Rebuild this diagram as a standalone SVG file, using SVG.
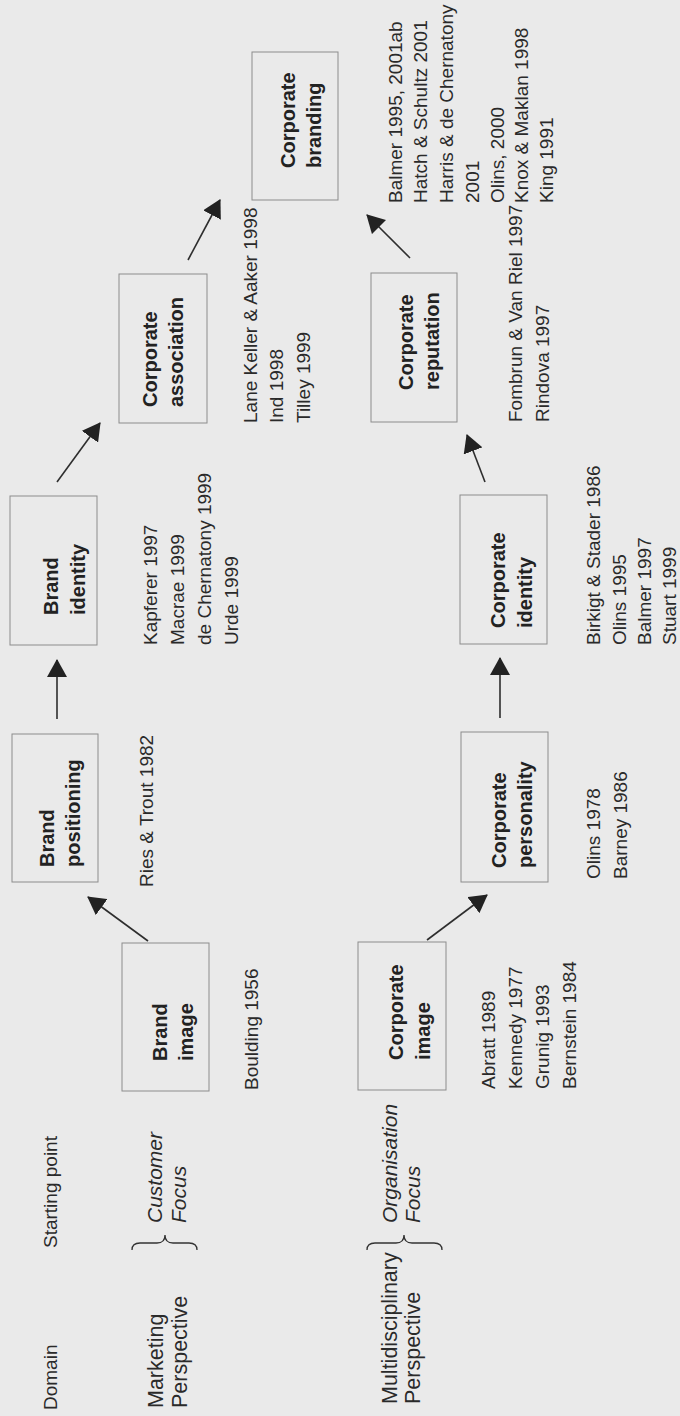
<svg xmlns="http://www.w3.org/2000/svg" width="680" height="1416" viewBox="0 0 680 1416">
  <style>
    .bg { fill: #eaeaea; }
    .box { fill: none; stroke: #8c8c8c; stroke-width: 1; }
    .lbl { font-family: "Liberation Sans", Arial, sans-serif; font-size: 20px; font-weight: bold; fill: #222222; }
    .ref { font-family: "Liberation Sans", Arial, sans-serif; font-size: 19px; fill: #2a2a2a; }
    .hd { font-family: "Liberation Sans", Arial, sans-serif; font-size: 19px; fill: #2a2a2a; }
    .dom { font-family: "Liberation Sans", Arial, sans-serif; font-size: 21.5px; fill: #2a2a2a; }
    .foc { font-family: "Liberation Sans", Arial, sans-serif; font-size: 21px; font-style: italic; fill: #2a2a2a; }
    .brace { fill: none; stroke: #333333; stroke-width: 1.3; }
    .arrow { fill: none; stroke: #2e2e2e; stroke-width: 1.6; marker-end: url(#head); }
  </style>
  <defs>
    <marker id="head" viewBox="0 0 18 20" refX="17" refY="10" markerWidth="18" markerHeight="20" markerUnits="userSpaceOnUse" orient="auto">
      <path d="M0,0 L18,10 L0,20 Z" fill="#222222"/>
    </marker>
  </defs>

  <rect class="bg" x="0" y="0" width="680" height="1416"/>

  <!-- landscape layout, turned a quarter-turn counter-clockwise onto the page -->
  <g transform="translate(0,1416) rotate(-90)">

    <g id="headers">
      <text class="hd" x="6" y="57">Domain</text>
      <text class="hd" x="168" y="57">Starting point</text>
    </g>

    <g id="marketing-domain">
      <text class="dom" x="8" y="163">Marketing</text>
      <text class="dom" x="8" y="187">Perspective</text>
      <path class="brace" d="M166,132 Q173,132 173,140 L173,157 Q173,165 181,165 Q173,165 173,173 L173,189 Q173,197 166,197"/>
      <text class="foc" x="193" y="162">Customer</text>
      <text class="foc" x="193" y="186">Focus</text>
    </g>

    <g id="multidisciplinary-domain">
      <text class="dom" x="12" y="397">Multidisciplinary</text>
      <text class="dom" x="12" y="420">Perspective</text>
      <path class="brace" d="M166,367 Q173,367 173,375 L173,396 Q173,404 181,404 Q173,404 173,412 L173,434 Q173,442 166,442"/>
      <text class="foc" x="193" y="397">Organisation</text>
      <text class="foc" x="193" y="420">Focus</text>
    </g>

    <g id="brand-image">
      <rect class="box" x="325" y="122" width="148" height="87"/>
      <text class="lbl" x="355" y="167">Brand</text>
      <text class="lbl" x="355" y="193">image</text>
      <text class="ref" x="326" y="258">Boulding 1956</text>
    </g>

    <g id="corporate-image">
      <rect class="box" x="326" y="358" width="148" height="88"/>
      <text class="lbl" x="356" y="403">Corporate</text>
      <text class="lbl" x="356" y="430">image</text>
      <text class="ref" x="327" y="495">Abratt 1989</text>
      <text class="ref" x="327" y="522">Kennedy 1977</text>
      <text class="ref" x="327" y="549">Grunig 1993</text>
      <text class="ref" x="327" y="576">Bernstein 1984</text>
    </g>

    <g id="brand-positioning">
      <rect class="box" x="534" y="12" width="148" height="86"/>
      <text class="lbl" x="549" y="54">Brand</text>
      <text class="lbl" x="549" y="80">positioning</text>
      <text class="ref" x="529" y="153">Ries &amp; Trout 1982</text>
    </g>

    <g id="corporate-personality">
      <rect class="box" x="534" y="461" width="150" height="87"/>
      <text class="lbl" x="548" y="506">Corporate</text>
      <text class="lbl" x="548" y="532">personality</text>
      <text class="ref" x="537" y="600">Olins 1978</text>
      <text class="ref" x="537" y="627">Barney 1986</text>
    </g>

    <g id="brand-identity">
      <rect class="box" x="771" y="10" width="149" height="87"/>
      <text class="lbl" x="801" y="58">Brand</text>
      <text class="lbl" x="801" y="85">identity</text>
      <text class="ref" x="771" y="157">Kapferer 1997</text>
      <text class="ref" x="771" y="184">Macrae 1999</text>
      <text class="ref" x="771" y="211">de Chernatony 1999</text>
      <text class="ref" x="771" y="238">Urde 1999</text>
    </g>

    <g id="corporate-identity">
      <rect class="box" x="772" y="460" width="149" height="87"/>
      <text class="lbl" x="788" y="505">Corporate</text>
      <text class="lbl" x="788" y="532">identity</text>
      <text class="ref" x="771" y="600">Birkigt &amp; Stader 1986</text>
      <text class="ref" x="771" y="626">Olins 1995</text>
      <text class="ref" x="771" y="651">Balmer 1997</text>
      <text class="ref" x="771" y="676">Stuart 1999</text>
    </g>

    <g id="corporate-association">
      <rect class="box" x="993" y="119" width="149" height="88"/>
      <text class="lbl" x="1009" y="157">Corporate</text>
      <text class="lbl" x="1009" y="183">association</text>
      <text class="ref" x="993" y="257">Lane Keller &amp; Aaker 1998</text>
      <text class="ref" x="993" y="283">Ind 1998</text>
      <text class="ref" x="993" y="310">Tilley 1999</text>
    </g>

    <g id="corporate-reputation">
      <rect class="box" x="994" y="371" width="149" height="86"/>
      <text class="lbl" x="1026" y="413">Corporate</text>
      <text class="lbl" x="1026" y="439">reputation</text>
      <text class="ref" x="994" y="522">Fombrun &amp; Van Riel 1997</text>
      <text class="ref" x="994" y="549">Rindova 1997</text>
    </g>

    <g id="corporate-branding">
      <rect class="box" x="1216" y="252" width="148" height="86"/>
      <text class="lbl" x="1248" y="295">Corporate</text>
      <text class="lbl" x="1248" y="321">branding</text>
      <text class="ref" x="1213" y="402">Balmer 1995, 2001ab</text>
      <text class="ref" x="1213" y="427">Hatch &amp; Schultz 2001</text>
      <text class="ref" x="1213" y="453">Harris &amp; de Chernatony</text>
      <text class="ref" x="1213" y="479">2001</text>
      <text class="ref" x="1213" y="504">Olins, 2000</text>
      <text class="ref" x="1213" y="528">Knox &amp; Maklan 1998</text>
      <text class="ref" x="1213" y="553">King 1991</text>
    </g>

    <g id="connectors">
      <line class="arrow" x1="475" y1="148" x2="519" y2="88"/>
      <line class="arrow" x1="697" y1="57" x2="756" y2="57"/>
      <line class="arrow" x1="934" y1="57" x2="993" y2="100"/>
      <line class="arrow" x1="1156" y1="188" x2="1216" y2="220"/>
      <line class="arrow" x1="476" y1="427" x2="521" y2="487"/>
      <line class="arrow" x1="698" y1="500" x2="758" y2="500"/>
      <line class="arrow" x1="934" y1="485" x2="981" y2="467"/>
      <line class="arrow" x1="1158" y1="410" x2="1201" y2="367"/>
    </g>
  </g>
</svg>
